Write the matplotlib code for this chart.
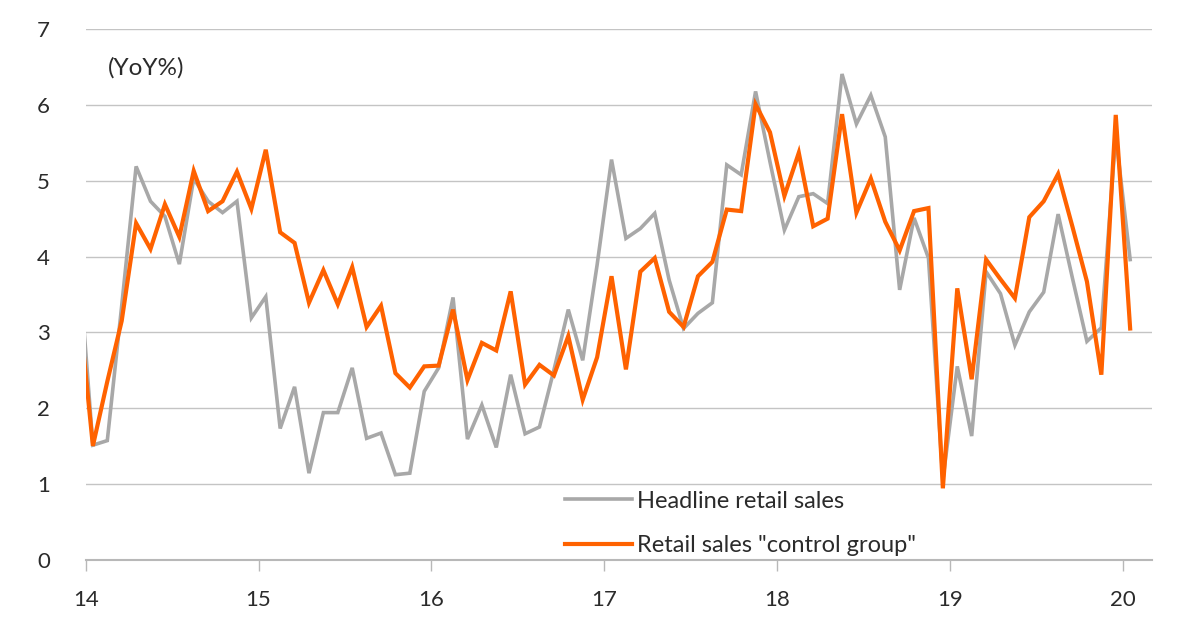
import numpy as np
import matplotlib
matplotlib.use("Agg")
from matplotlib import pyplot as plt

# US retail sales, YoY %, monthly Dec 2013 .. Jan 2020
month_idx = list(range(-1, 73))  # 0 = Jan 2014

headline = [4.00,
            1.51, 1.57, 3.35, 5.19, 4.73, 4.53, 3.90, 5.03, 4.73, 4.58, 4.73, 3.19,
            3.47, 1.73, 2.28, 1.14, 1.94, 1.94, 2.53, 1.60, 1.67, 1.12, 1.14, 2.22,
            2.53, 3.46, 1.59, 2.04, 1.48, 2.44, 1.66, 1.75, 2.50, 3.30, 2.63, 3.89,
            5.28, 4.24, 4.37, 4.57, 3.69, 3.05, 3.25, 3.39, 5.21, 5.08, 6.18, 5.25,
            4.35, 4.79, 4.83, 4.70, 6.41, 5.75, 6.13, 5.58, 3.56, 4.51, 3.98, 1.05,
            2.55, 1.63, 3.80, 3.51, 2.83, 3.27, 3.53, 4.56, 3.71, 2.88, 3.06, 5.60,
            3.96]

control = [3.40,
           1.50, 2.35, 3.15, 4.44, 4.10, 4.69, 4.26, 5.13, 4.60, 4.73, 5.12, 4.63,
           5.41, 4.32, 4.18, 3.39, 3.82, 3.37, 3.86, 3.07, 3.35, 2.46, 2.27, 2.55,
           2.56, 3.30, 2.37, 2.86, 2.76, 3.54, 2.31, 2.57, 2.43, 2.95, 2.11, 2.67,
           3.74, 2.51, 3.80, 3.98, 3.27, 3.07, 3.74, 3.93, 4.62, 4.60, 6.01, 5.64,
           4.80, 5.37, 4.40, 4.50, 5.88, 4.58, 5.03, 4.46, 4.08, 4.60, 4.64, 0.94,
           3.58, 2.38, 3.96, 3.70, 3.45, 4.52, 4.73, 5.09, 4.39, 3.67, 2.44, 5.87,
           3.05]

year_ticks = [14, 15, 16, 17, 18, 19, 20]
y_ticks = [0, 1, 2, 3, 4, 5, 6, 7]

GRAY = "#a8a8a8"
ORANGE = "#ff6200"
TEXT = "#2b2b2b"

plt.rcParams["font.family"] = ["Lato", "DejaVu Sans"]

# points sit in the middle of each month
x = 14 + (np.array(month_idx) + 0.5) / 12

fig = plt.figure(figsize=(12, 6.21), dpi=100)
ax = fig.add_axes([0.0714, 0.099, 0.8884, 0.8538])

ax.plot(x, headline, color=GRAY, lw=2.6, label="Headline retail sales",
        solid_joinstyle="miter", zorder=3)
ax.plot(x, control, color=ORANGE, lw=3.0, label='Retail sales "control group"',
        solid_joinstyle="miter", zorder=4)

ax.set_xlim(14, 20 + 2 / 12)
ax.set_ylim(0, 7)

ax.set_yticks(y_ticks)
ax.set_xticks(year_ticks)
ax.tick_params(axis="y", length=0, pad=35, labelsize=16, labelcolor=TEXT)
ax.tick_params(axis="x", length=8, width=1, color="#b8b8b8", pad=14,
               labelsize=16, labelcolor=TEXT)
for lab in ax.get_yticklabels():
    lab.set_horizontalalignment("left")

ax.grid(axis="y", color="#c4c4c4", lw=1)
ax.set_axisbelow(True)
for s in ["left", "right", "top"]:
    ax.spines[s].set_visible(False)
ax.spines["bottom"].set_color("#b8b8b8")
ax.spines["bottom"].set_linewidth(1.5)

ax.text(0.021, 0.928, "(YoY%)", transform=ax.transAxes, fontsize=17.5,
        color=TEXT, va="center", ha="left")

ax.legend(loc="center left", bbox_to_anchor=(0.4496, 0.068), frameon=False,
          fontsize=17, handlelength=2.84, handletextpad=0.2, labelspacing=1.0,
          borderaxespad=0, borderpad=0, labelcolor=TEXT)

fig.savefig("out.png", dpi=100, facecolor="white")
